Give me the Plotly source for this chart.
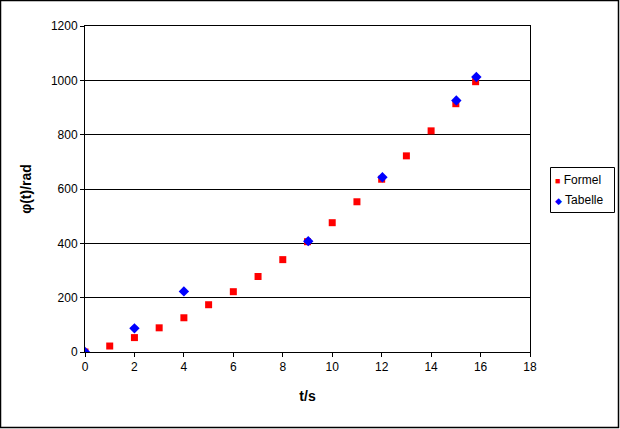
import plotly.graph_objects as go

formel_t = [0, 1, 2, 3, 4, 5, 6, 7, 8, 9, 10, 11, 12, 13, 14, 15, 15.8]
formel_phi = [0, 22, 53, 89, 126, 174, 222, 278, 340, 406, 476, 553, 636, 722, 814, 914, 995]
tabelle_t = [0, 2, 4, 9.03, 12.03, 15.02, 15.83]
tabelle_phi = [0, 87, 223, 408, 643, 926, 1012]
series_names = ["Formel", "Tabelle"]
series_colors = ["#ff0000", "#0000ff"]
series_symbols = ["■", "◆"]

W, H = 620, 429
L, R, T, B = 85, 90, 26, 77
pw, ph = W - L - R, H - T - B

def px_x(p):
    return (p - L) / pw

def px_y(p):
    return (H - B - p) / ph

fig = go.Figure()
fig.add_trace(go.Scatter(x=formel_t, y=formel_phi, mode="markers", name=series_names[0],
                         marker=dict(symbol="square", size=7, color=series_colors[0], line=dict(width=0))))
fig.add_trace(go.Scatter(x=tabelle_t, y=tabelle_phi, mode="markers", name=series_names[1],
                         marker=dict(symbol="diamond", size=8, color=series_colors[1], line=dict(width=0))))

font = dict(family="Liberation Sans, Arial, sans-serif", size=12, color="black")
fig.update_layout(
    width=W, height=H, margin=dict(l=L, r=R, t=T, b=B, autoexpand=False),
    paper_bgcolor="white", plot_bgcolor="white", font=font, showlegend=False,
    xaxis=dict(range=[0, 18], dtick=2, showgrid=False, zeroline=False,
               showline=True, linecolor="black", linewidth=1, mirror=True,
               ticks="outside", ticklen=4, tickcolor="black",
               title=dict(text="<b>t/s</b>", font=dict(size=14), standoff=17)),
    yaxis=dict(range=[0, 1200], dtick=200, showgrid=True, gridcolor="black", gridwidth=1,
               zeroline=False, showline=True, linecolor="black", linewidth=1, mirror=True,
               ticks="outside", ticklen=4, tickcolor="black",
               title=dict(text="<b>φ(t)/rad</b>", font=dict(size=14), standoff=15)),
)
# outer chart border
fig.add_shape(type="rect", xref="paper", yref="paper",
              x0=px_x(0.5), x1=px_x(W - 1.5), y0=px_y(H - 1.5), y1=px_y(0.5),
              line=dict(color="black", width=1.5), fillcolor="rgba(0,0,0,0)", layer="above")
# legend box
fig.add_shape(type="rect", xref="paper", yref="paper",
              x0=px_x(550.5), x1=px_x(614.5), y0=px_y(212.5), y1=px_y(167.5),
              line=dict(color="black", width=1), fillcolor="white", layer="above")
for i, (nm, col, sym) in enumerate(zip(series_names, series_colors, series_symbols)):
    yc = 180 + i * 20
    fig.add_annotation(xref="paper", yref="paper", x=px_x(553), y=px_y(yc),
                       xanchor="left", yanchor="middle", showarrow=False,
                       text=f"<span style='color:{col};font-size:9px'>{sym}</span> {nm}",
                       font=dict(size=12, family="Liberation Sans, Arial, sans-serif"))
fig.write_html("out.html")
